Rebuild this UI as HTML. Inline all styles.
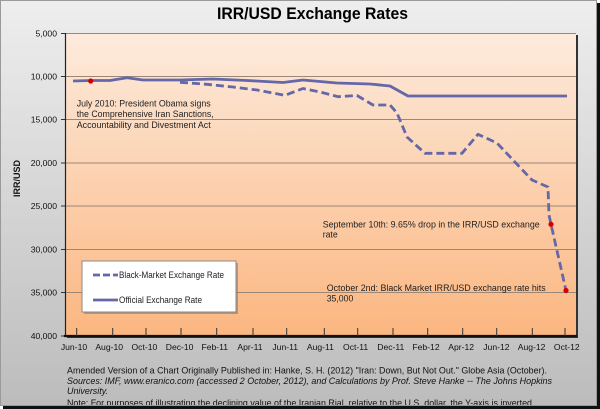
<!DOCTYPE html>
<html>
<head>
<meta charset="utf-8">
<style>
html,body{margin:0;padding:0;background:#fff;}
svg{display:block;font-family:"Liberation Sans",Arial,sans-serif;}
</style>
</head>
<body>
<svg width="600" height="409" viewBox="0 0 600 409" xmlns="http://www.w3.org/2000/svg">
<defs>
<linearGradient id="frame" x1="0" y1="0" x2="0" y2="1">
<stop offset="0" stop-color="#eeeeee"/>
<stop offset="1" stop-color="#bcbcbc"/>
</linearGradient>
<linearGradient id="plot" x1="0" y1="0" x2="0" y2="1">
<stop offset="0" stop-color="#fdebdd"/>
<stop offset="1" stop-color="#fbb680"/>
</linearGradient>
<clipPath id="fclip"><rect x="0" y="0" width="596" height="405"/></clipPath>
</defs>

<!-- outer shadow + frame -->
<rect x="3" y="3" width="597" height="406" fill="#111"/>
<rect x="0.5" y="0.5" width="596" height="405" fill="url(#frame)" stroke="#9a9a9a" stroke-width="1"/>

<!-- title -->
<text x="312.5" y="19" font-size="16.5" font-weight="bold" text-anchor="middle" textLength="191" lengthAdjust="spacingAndGlyphs" fill="#000">IRR/USD Exchange Rates</text>

<!-- plot shadow -->
<rect x="67" y="35" width="511" height="303" fill="#333"/>
<!-- plot area -->
<rect x="65" y="33" width="511" height="303" fill="url(#plot)"/>

<!-- gridlines -->
<g stroke="#9c8676" stroke-width="1">
<line x1="65" y1="33.5" x2="576" y2="33.5"/>
<line x1="65" y1="76.5" x2="576" y2="76.5"/>
<line x1="65" y1="119.5" x2="576" y2="119.5"/>
<line x1="65" y1="163" x2="576" y2="163"/>
<line x1="65" y1="206" x2="576" y2="206"/>
<line x1="65" y1="249.5" x2="576" y2="249.5"/>
<line x1="65" y1="292.5" x2="576" y2="292.5"/>
</g>

<!-- y tick marks -->
<g stroke="#333" stroke-width="1">
<line x1="61" y1="33.5" x2="65" y2="33.5"/>
<line x1="61" y1="76.5" x2="65" y2="76.5"/>
<line x1="61" y1="119.5" x2="65" y2="119.5"/>
<line x1="61" y1="163" x2="65" y2="163"/>
<line x1="61" y1="206" x2="65" y2="206"/>
<line x1="61" y1="249.5" x2="65" y2="249.5"/>
<line x1="61" y1="292.5" x2="65" y2="292.5"/>
<line x1="61" y1="336" x2="65" y2="336"/>
</g>

<!-- axes -->
<line x1="65.5" y1="33" x2="65.5" y2="337" stroke="#222" stroke-width="1.2"/>
<line x1="64" y1="336" x2="577" y2="336" stroke="#111" stroke-width="2.2"/>

<!-- x ticks -->
<g stroke="#333" stroke-width="1">
<line x1="76.7" y1="328" x2="76.7" y2="336"/>
<line x1="112.7" y1="328" x2="112.7" y2="336"/>
<line x1="146" y1="328" x2="146" y2="336"/>
<line x1="181" y1="328" x2="181" y2="336"/>
<line x1="216.7" y1="328" x2="216.7" y2="336"/>
<line x1="253" y1="328" x2="253" y2="336"/>
<line x1="286.7" y1="328" x2="286.7" y2="336"/>
<line x1="324.3" y1="328" x2="324.3" y2="336"/>
<line x1="357.7" y1="328" x2="357.7" y2="336"/>
<line x1="393" y1="328" x2="393" y2="336"/>
<line x1="427.7" y1="328" x2="427.7" y2="336"/>
<line x1="462.7" y1="328" x2="462.7" y2="336"/>
<line x1="496.7" y1="328" x2="496.7" y2="336"/>
<line x1="532.3" y1="328" x2="532.3" y2="336"/>
<line x1="565" y1="328" x2="565" y2="336"/>
</g>

<!-- y labels -->
<g font-size="8.6" text-anchor="end" fill="#111">
<text x="57" y="36.5">5,000</text>
<text x="57" y="79.5">10,000</text>
<text x="57" y="122.5">15,000</text>
<text x="57" y="166">20,000</text>
<text x="57" y="209">25,000</text>
<text x="57" y="252.5">30,000</text>
<text x="57" y="295.5">35,000</text>
<text x="57" y="339">40,000</text>
</g>

<!-- y title -->
<text transform="translate(20,178.5) rotate(-90)" font-size="9" font-weight="bold" text-anchor="middle" fill="#111">IRR/USD</text>

<!-- x labels -->
<g font-size="8.6" text-anchor="middle" fill="#111">
<text x="74" y="350">Jun-10</text>
<text x="109.2" y="350">Aug-10</text>
<text x="144.4" y="350">Oct-10</text>
<text x="179.6" y="350">Dec-10</text>
<text x="214.8" y="350">Feb-11</text>
<text x="250" y="350">Apr-11</text>
<text x="285.2" y="350">Jun-11</text>
<text x="320.4" y="350">Aug-11</text>
<text x="355.6" y="350">Oct-11</text>
<text x="390.8" y="350">Dec-11</text>
<text x="426" y="350">Feb-12</text>
<text x="461.2" y="350">Apr-12</text>
<text x="496.4" y="350">Jun-12</text>
<text x="531.6" y="350">Aug-12</text>
<text x="566.8" y="350">Oct-12</text>
</g>

<!-- official line -->
<polyline fill="none" stroke="#6467a8" stroke-width="2.8" stroke-linejoin="round"
points="73,81 92,80.5 110,80.5 127,77.7 143,80 180,80 213,79 247,80.5 283,82.5 303,80 337,83 370,84 390,86 408,96 567,96"/>

<!-- black market line -->
<polyline fill="none" stroke="#6467a8" stroke-width="2.8" stroke-dasharray="8,4" stroke-linejoin="round"
points="180,82.3 207,84.3 233,87 257,90 285,95.3 303,88.5 320,92 338,96.7 357,95.5 373,105 390,105 397,113 407,137 425,153.3 462,153.3 478,134.3 497,143 513,160 532,180 548,187 549,215 551,224.3 566,290.5"/>

<!-- red dots -->
<g fill="#d40000">
<circle cx="90.7" cy="81" r="2.6"/>
<circle cx="551" cy="224.3" r="2.6"/>
<circle cx="566" cy="290.5" r="2.6"/>
</g>

<!-- annotations -->
<g font-size="9" fill="#222">
<text x="76.7" y="106.5" textLength="134" lengthAdjust="spacingAndGlyphs">July 2010: President Obama signs</text>
<text x="76.7" y="117.2" textLength="137" lengthAdjust="spacingAndGlyphs">the Comprehensive Iran Sanctions,</text>
<text x="76.7" y="128" textLength="134" lengthAdjust="spacingAndGlyphs">Accountability and Divestment Act</text>
<text x="322.7" y="227.3" textLength="217" lengthAdjust="spacingAndGlyphs">September 10th: 9.65% drop in the IRR/USD exchange</text>
<text x="322.7" y="237.5" textLength="15" lengthAdjust="spacingAndGlyphs">rate</text>
<text x="326.7" y="291" textLength="219" lengthAdjust="spacingAndGlyphs">October 2nd: Black Market IRR/USD exchange rate hits</text>
<text x="326.7" y="301.5" textLength="26.6" lengthAdjust="spacingAndGlyphs">35,000</text>
</g>

<!-- legend -->
<rect x="84" y="263" width="154" height="51" fill="#7a6a60" opacity="0.5"/>
<rect x="82" y="261" width="154" height="51" fill="#fff" stroke="#8a8a8a" stroke-width="1"/>
<line x1="93" y1="275" x2="118" y2="275" stroke="#6467a8" stroke-width="2.8" stroke-dasharray="7,3"/>
<line x1="93" y1="300" x2="118" y2="300" stroke="#6467a8" stroke-width="2.8"/>
<g font-size="8.8" fill="#222">
<text x="119" y="278.2" textLength="105" lengthAdjust="spacingAndGlyphs">Black-Market Exchange Rate</text>
<text x="119" y="303.2" textLength="83" lengthAdjust="spacingAndGlyphs">Official Exchange Rate</text>
</g>

<!-- footer -->
<g font-size="9.5" fill="#111" clip-path="url(#fclip)">
<text x="67" y="373.3" textLength="480" lengthAdjust="spacingAndGlyphs">Amended Version of a Chart Originally Published in: Hanke, S. H. (2012) "Iran: Down, But Not Out." Globe Asia (October).</text>
<text x="67" y="383.8" font-style="italic" textLength="485" lengthAdjust="spacingAndGlyphs">Sources: IMF,  www.eranico.com (accessed 2 October, 2012), and Calculations by Prof. Steve Hanke -- The Johns Hopkins</text>
<text x="67" y="393.8" font-style="italic" textLength="41" lengthAdjust="spacingAndGlyphs">University.</text>
<text x="67" y="406" textLength="465" lengthAdjust="spacingAndGlyphs">Note: For purposes of illustrating the declining value of the Iranian Rial, relative to the U.S. dollar, the Y-axis is inverted</text>
</g>

<!-- bottom/right shadow overlay -->
<rect x="3" y="406" width="597" height="3" fill="#111"/>
<rect x="597" y="3" width="3" height="406" fill="#111"/>
</svg>
</body>
</html>
